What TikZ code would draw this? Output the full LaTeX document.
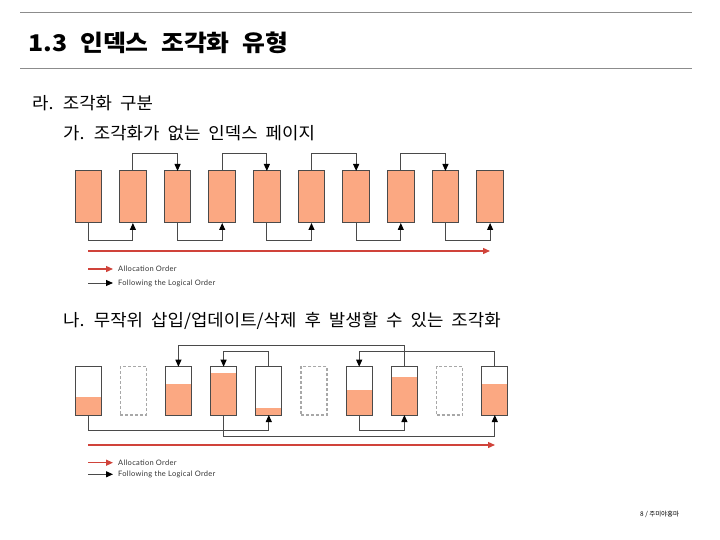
\documentclass[tikz,border=0pt]{standalone}
\usepackage{fontspec}
\setmainfont{Noto Sans CJK KR}
\newfontfamily\bodyfont[FakeStretch=1.05,WordSpace=2]{Noto Sans CJK KR}
\newfontfamily\titlefont[FakeStretch=1.08,WordSpace=2.2]{Noto Sans CJK KR}
\newfontfamily\legendfont[LetterSpace=4]{Lato}
\usetikzlibrary{arrows.meta,positioning,calc}
\definecolor{salmon}{HTML}{FBA882}
\definecolor{pageline}{HTML}{4A4A4A}
\definecolor{allocred}{HTML}{D0433A}
\definecolor{rulegray}{HTML}{8C8C8C}
\definecolor{ghost}{HTML}{A8A8A8}
\tikzset{
    fullpage/.style={draw=pageline,fill=salmon,line width=1pt,
      minimum width=26.5pt,minimum height=52pt,inner sep=0pt,outer sep=0pt},
    partpage/.style={draw=pageline,fill=white,line width=1pt,
      minimum width=26pt,minimum height=48.3pt,inner sep=0pt,outer sep=0pt,
      path picture={\fill[salmon] (path picture bounding box.south west)
        rectangle ([yshift=#1]path picture bounding box.south east);}},
    ghostpage/.style={draw=ghost,dash pattern=on 3pt off 2pt,line width=1.1pt,
      minimum width=26pt,minimum height=48.3pt,inner sep=0pt,outer sep=0pt},
    logic/.style={-{Triangle[length=7pt,width=6pt,color=black]},draw=pageline,line width=1pt},
    alloc/.style={-{Triangle[length=7pt,width=6pt]},draw=allocred,line width=1.3pt},
    legendtext/.style={font=\legendfont\fontsize{7.5}{8}\selectfont,anchor=west,
      inner sep=0pt,text=black!80},
    bodytext/.style={font=\bodyfont\fontsize{17}{19}\selectfont,anchor=west,inner sep=0pt}
}

\begin{document}
\begin{tikzpicture}[x=1pt,y=-1pt,line cap=butt]
  \useasboundingbox (0,0) rectangle (720,540);
  % header
  \coordinate (r1a) at (20,12.5); \coordinate (r1b) at (692,12.5);
  \coordinate (r2a) at (20,68.5); \coordinate (r2b) at (692,68.5);
  \draw[rulegray,line width=0.8pt] (r1a) -- (r1b);
  \draw[rulegray,line width=0.8pt] (r2a) -- (r2b);
  \node[anchor=west,inner sep=0pt,font=\titlefont\fontsize{23}{25}\selectfont\bfseries] (title)
    at (28,42.5) {1.3\hspace{13pt}인덱스 조각화 유형};
  \node[bodytext] (sec) at (32,103) {라. 조각화 구분};
  \node[bodytext] (suba) at (63,133) {가. 조각화가 없는 인덱스 페이지};
  \node[bodytext] (subb) at (63,321) {나. 무작위 삽입/업데이트/삭제 후 발생할 수 있는 조각화};

  % diagram 1: no fragmentation
  \foreach \i in {1,...,10}
    \node[fullpage] (p\i) at ({88.25+(\i-1)*44.65},197) {};
  \foreach \a/\b in {1/2,3/4,5/6,7/8,9/10}
    \draw[logic] (p\a.south) -- ([yshift=-17pt]p\a.south) -| (p\b.south);
  \foreach \a/\b in {2/3,4/5,6/7,8/9}
    \draw[logic] (p\a.north) -- ([yshift=17pt]p\a.north) -| (p\b.north);
  \coordinate (alA) at (88,251); \coordinate (alB) at (490,251);
  \draw[alloc] (alA) -- (alB);
  \coordinate (lgA1) at (88,269); \coordinate (lgA2) at (113,269);
  \coordinate (lgB1) at (88,283); \coordinate (lgB2) at (113,283);
  \draw[alloc] (lgA1) -- (lgA2);
  \draw[logic] (lgB1) -- (lgB2);
  \node[legendtext] (lgAt) at (118,269) {Allocation Order};
  \node[legendtext] (lgBt) at (118,283) {Following the Logical Order};

  % diagram 2: after random insert/update/delete
  \foreach \i/\lvl in {1/18,3/31,4/42,5/7,7/25,8/38,10/31}
    \node[partpage=\lvl pt] (q\i) at ({88+(\i-1)*45.2},390.85) {};
  \foreach \i in {2,6,9}
    \node[ghostpage] (q\i) at ({88+(\i-1)*45.2},390.85) {};
  \draw[logic] (q1.south) -- ([yshift=-15pt]q1.south) -| (q5.south);
  \draw[logic] (q5.north) -- ([yshift=15pt]q5.north) -| (q4.north);
  \draw[logic] (q4.south) -- ([yshift=-21.7pt]q4.south) -| (q10.south);
  \draw[logic] (q10.north) -- ([yshift=15pt]q10.north) -| (q7.north);
  \draw[logic] (q7.south) -- ([yshift=-15pt]q7.south) -| (q8.south);
  \draw[logic] (q8.north) -- ([yshift=21.7pt]q8.north) -| (q3.north);
  \coordinate (blA) at (88,445); \coordinate (blB) at (495,445);
  \draw[alloc] (blA) -- (blB);
  \coordinate (mgA1) at (88,462.7); \coordinate (mgA2) at (113,462.7);
  \coordinate (mgB1) at (88,474.3); \coordinate (mgB2) at (113,474.3);
  \draw[alloc] (mgA1) -- (mgA2);
  \draw[logic] (mgB1) -- (mgB2);
  \node[legendtext] (mgAt) at (118,462.7) {Allocation Order};
  \node[legendtext] (mgBt) at (118,474.3) {Following the Logical Order};

  % footer
  \node[anchor=west,inner sep=0pt,font=\fontsize{6.5}{7}\selectfont] (foot)
    at (640,514) {8 / 주미야홍마};
\end{tikzpicture}
\end{document}
